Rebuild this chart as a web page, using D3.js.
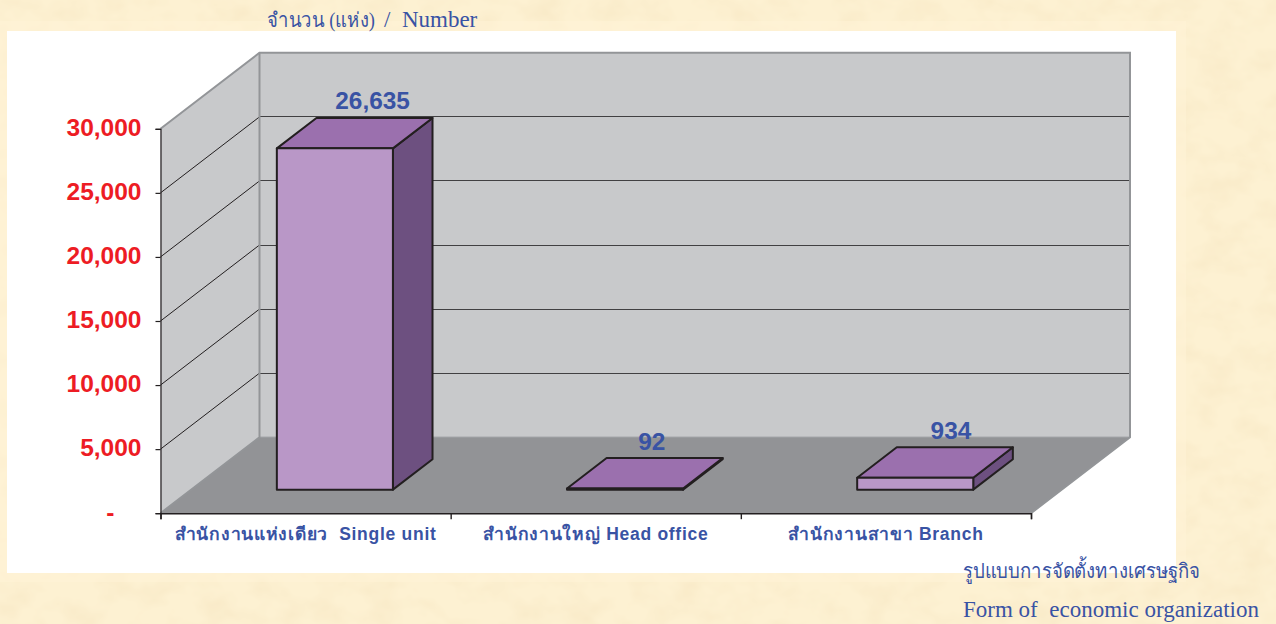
<!DOCTYPE html>
<html>
<head>
<meta charset="utf-8">
<script src="https://cdn.jsdelivr.net/npm/d3@7"></script>
<style>
html, body { margin: 0; padding: 0; background: #fdf1d2; overflow: hidden; }
svg { display: block; }
</style>
</head>
<body>
<div id="chart"></div>
<script>
//Chart values
const categories = ["สำนักงานแห่งเดียว  Single unit", "สำนักงานใหญ่ Head office", "สำนักงานสาขา Branch"];
const values = [26635, 92, 934];
const valueLabels = ["26,635", "92", "934"];
const yTicks = [0, 5000, 10000, 15000, 20000, 25000, 30000];

const yTitleThai = "จำนวน (แห่ง)";
const yTitleEng = "/  Number";
const xTitleThai = "รูปแบบการจัดตั้งทางเศรษฐกิจ";
const xTitleEng = "Form of  economic organization";

function updateVis() {
    const width = 1276, height = 624;
    const sansFont = "'Liberation Sans', 'Noto Sans', sans-serif";
    const serifFont = "'Liberation Serif', 'Noto Sans', serif";

    var svg = d3.select("#chart")
        .append("svg")
        .attr("width", width)
        .attr("height", height);

    //Parchment background
    var defs = svg.append("defs");
    var paper = defs.append("filter")
        .attr("id", "paper")
        .attr("x", 0).attr("y", 0).attr("width", "100%").attr("height", "100%");
    paper.append("feTurbulence")
        .attr("type", "fractalNoise")
        .attr("baseFrequency", "0.03 0.04")
        .attr("numOctaves", 3)
        .attr("seed", 7);
    paper.append("feColorMatrix")
        .attr("type", "matrix")
        .attr("values", "0 0 0 0 0.93  0 0 0 0 0.80  0 0 0 0 0.55  1.3 0 0 0 -0.52");
    svg.append("rect")
        .attr("width", width).attr("height", height)
        .attr("fill", "#fdf1d2");
    svg.append("rect")
        .attr("width", width).attr("height", height)
        .attr("filter", "url(#paper)");

    //Lighter patch behind the panel
    svg.append("rect")
        .attr("x", 0).attr("y", 21)
        .attr("width", 1186).attr("height", 561)
        .attr("fill", "#fff3d8")
        .attr("opacity", 0.5);

    //White panel
    svg.append("rect")
        .attr("x", 7).attr("y", 31)
        .attr("width", 1169).attr("height", 542)
        .attr("fill", "#ffffff");

    //Scales
    var x = d3.scaleBand()
        .domain(categories)
        .range([160.5, 1031])
        .paddingInner(0.6)
        .paddingOuter(0.3)
        .align(0.492);
    var xEdge = d3.scaleLinear()
        .domain([0, categories.length])
        .range([160.5, 1031]);
    var y = d3.scaleLinear()
        .domain([0, 30000])
        .range([513.2, 128.8]);
    //Depth into the chart: 0 is the front edge, 1 the back wall
    var depthX = d3.scaleLinear().domain([0, 1]).range([0, 99]);
    var depthY = d3.scaleLinear().domain([0, 1]).range([0, -76]);
    const barFront = 0.31, barBack = 0.71;

    function pt(px, v, d) {
        return [px + depthX(d), y(v) + depthY(d)];
    }
    var poly = d3.line();
    function face(points) {
        return poly(points) + "Z";
    }

    var left = xEdge(0), right = xEdge(categories.length);
    var yMax = yTicks[yTicks.length - 1];

    //Walls and floor
    var walls = svg.append("g");
    walls.append("path")
        .attr("d", face([pt(left, 0, 1), pt(right, 0, 1), pt(right, yMax, 1), pt(left, yMax, 1)]))
        .attr("fill", "#c8c9cb");
    walls.append("path")
        .attr("d", face([pt(left, 0, 0), pt(left, 0, 1), pt(left, yMax, 1), pt(left, yMax, 0)]))
        .attr("fill", "#c8c9cb");
    walls.append("path")
        .attr("d", face([pt(left, 0, 0), pt(right, 0, 0), pt(right, 0, 1), pt(left, 0, 1)]))
        .attr("fill", "#929396");

    //Gridlines
    var grid = svg.append("g");
    grid.selectAll(".side")
        .data(yTicks.slice(1, -1))
        .enter()
        .append("path")
        .attr("d", function (d) { return poly([pt(left, d, 0), pt(left, d, 1)]); })
        .attr("stroke", "#231f20")
        .attr("fill", "none")
        .attr("stroke-width", 1);
    grid.selectAll(".back")
        .data(yTicks.slice(1, -1))
        .enter()
        .append("path")
        .attr("d", function (d) { return poly([pt(left, d, 1), pt(right, d, 1)]); })
        .attr("stroke", "#414042")
        .attr("fill", "none")
        .attr("stroke-width", 1)
        .attr("shape-rendering", "crispEdges");

    //Wall frame
    var frame = svg.append("g")
        .attr("fill", "none")
        .attr("stroke", "#939598");
    frame.append("path")
        .attr("d", poly([pt(left, yMax, 0), pt(left, yMax, 1), pt(right, yMax, 1), pt(right, 0, 1), pt(right, 0, 0)]))
        .attr("stroke-width", 2);
    frame.append("path")
        .attr("d", poly([pt(left, yMax, 1), pt(left, 0, 1), pt(left, 0, 0)]))
        .attr("stroke-width", 2);
    frame.append("path")
        .attr("d", poly([pt(left, 0, 1), pt(right, 0, 1)]))
        .attr("stroke-width", 1);

    //Bars
    var bars = svg.selectAll(".bar")
        .data(values)
        .enter()
        .append("g")
        .attr("stroke", "#231f20")
        .attr("stroke-width", 2)
        .attr("stroke-linejoin", "round");
    bars.append("path")
        .attr("d", function (d, i) {
            var x0 = x(categories[i]) + x.bandwidth();
            return face([pt(x0, 0, barFront), pt(x0, 0, barBack), pt(x0, d, barBack), pt(x0, d, barFront)]);
        })
        .attr("fill", "#6d5080");
    bars.append("path")
        .attr("d", function (d, i) {
            var x0 = x(categories[i]), x1 = x0 + x.bandwidth();
            return face([pt(x0, d, barFront), pt(x1, d, barFront), pt(x1, d, barBack), pt(x0, d, barBack)]);
        })
        .attr("fill", "#9b70ae");
    bars.append("path")
        .attr("d", function (d, i) {
            var x0 = x(categories[i]), x1 = x0 + x.bandwidth();
            return face([pt(x0, 0, barFront), pt(x1, 0, barFront), pt(x1, d, barFront), pt(x0, d, barFront)]);
        })
        .attr("fill", "#b997c7");

    //Value labels
    const labelShift = [67, 56, 65];
    svg.selectAll(".value")
        .data(values)
        .enter()
        .append("text")
        .attr("x", function (d, i) { return xEdge(i + 0.5) + labelShift[i]; })
        .attr("y", function (d) { return pt(0, d, barBack)[1] - 8.5; })
        .attr("text-anchor", "middle")
        .style("font-family", sansFont)
        .style("font-weight", "bold")
        .style("font-size", "24.4px")
        .attr("fill", "#3953a4")
        .text(function (d, i) { return valueLabels[i]; });

    //Y axis
    var yAxis = svg.append("g")
        .attr("transform", "translate(" + left + ",0)")
        .call(d3.axisLeft(y)
            .tickValues(yTicks)
            .tickSize(5)
            .tickPadding(14)
            .tickFormat(function (d) { return d === 0 ? "-" : d3.format(",")(d); }));
    yAxis.selectAll("path, line").attr("stroke", "#231f20").attr("stroke-width", 1.2);
    yAxis.selectAll("text")
        .style("font-family", sansFont)
        .style("font-weight", "bold")
        .style("font-size", "24.5px")
        .attr("fill", "#ed1c24")
        .attr("y", -1)
        .attr("dx", function (d) { return d === 0 ? -27 : 0; });

    //X axis
    var xAxis = svg.append("g")
        .attr("transform", "translate(0," + y(0) + ")")
        .call(d3.axisBottom(xEdge)
            .tickValues(d3.range(categories.length + 1))
            .tickSize(6)
            .tickFormat(""));
    xAxis.selectAll("path, line").attr("stroke", "#231f20").attr("stroke-width", 1.4);

    svg.selectAll(".cat")
        .data(categories)
        .enter()
        .append("text")
        .attr("x", function (d, i) { return xEdge(i + 0.5); })
        .attr("y", 540)
        .attr("text-anchor", "middle")
        .style("white-space", "pre")
        .style("font-family", sansFont)
        .style("font-weight", "bold")
        .style("font-size", "17.5px")
        .style("letter-spacing", "0.72px")
        .attr("fill", "#3953a4")
        .text(function (d) { return d; });

    //Axis titles, Thai parts are squeezed to the width they have in the picture
    var titles = [
        { text: yTitleThai, x: 267, y: 27, size: 20.5, fit: 108 },
        { text: yTitleEng, x: 384, y: 27, size: 23 },
        { text: xTitleThai, x: 963, y: 578, size: 20.5, fit: 237 },
        { text: xTitleEng, x: 963, y: 617, size: 23 }
    ];
    svg.selectAll(".title")
        .data(titles)
        .enter()
        .append("text")
        .attr("x", function (d) { return d.x; })
        .attr("y", function (d) { return d.y; })
        .attr("textLength", function (d) { return d.fit || null; })
        .attr("lengthAdjust", function (d) { return d.fit ? "spacingAndGlyphs" : null; })
        .style("white-space", "pre")
        .style("font-family", serifFont)
        .style("font-size", function (d) { return d.size + "px"; })
        .attr("fill", "#3953a4")
        .text(function (d) { return d.text; });
}

updateVis();
</script>
</body>
</html>
